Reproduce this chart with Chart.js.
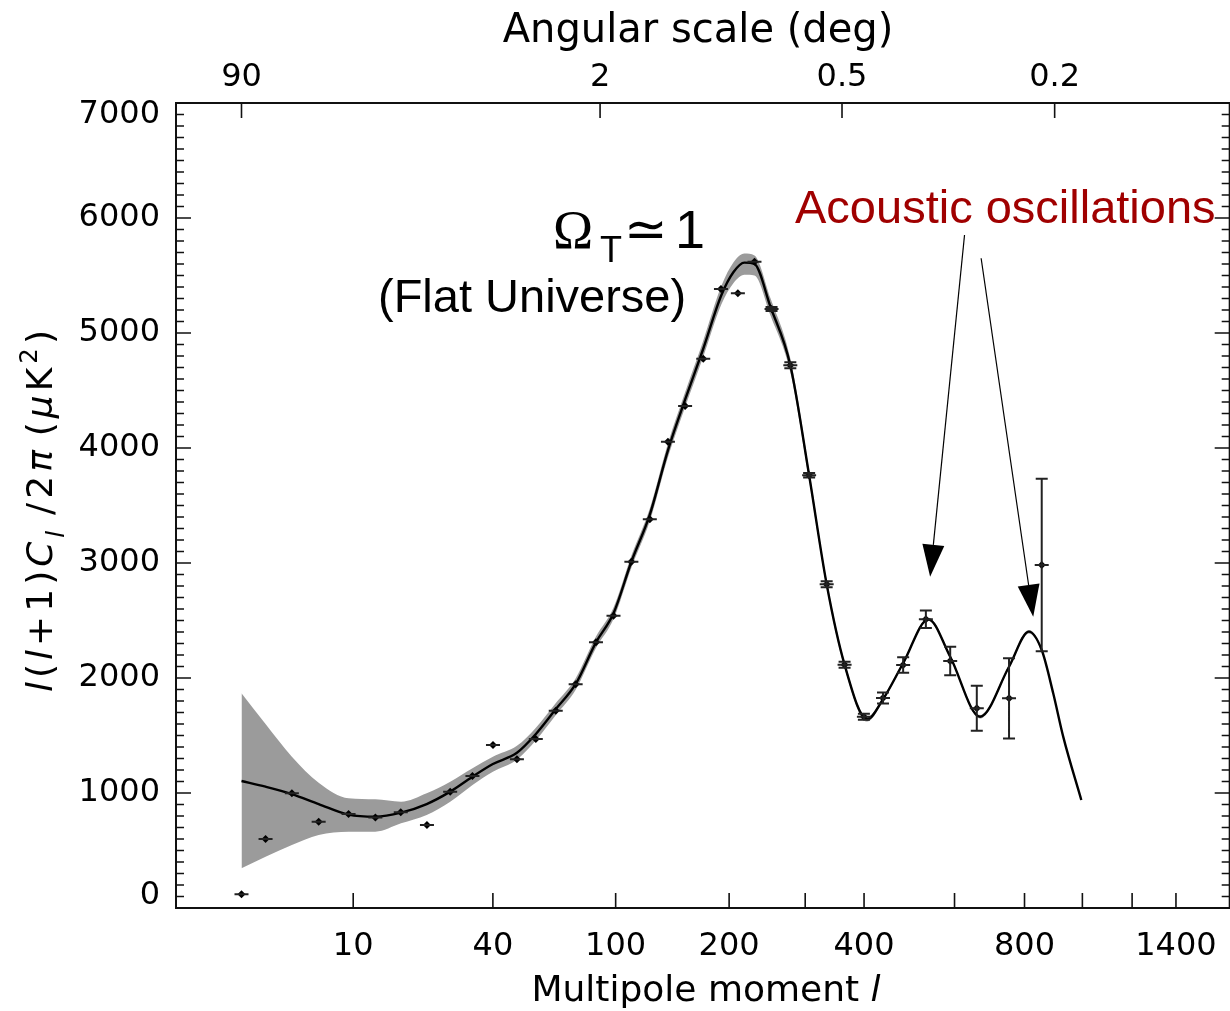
<!DOCTYPE html>
<html>
<head>
<meta charset="utf-8">
<script src="https://cdn.jsdelivr.net/npm/chart.js@4.4.1/dist/chart.umd.min.js"></script>
<style>
  html, body { margin: 0; padding: 0; background: #fff; overflow: hidden; }
  #wrap { width: 1236px; height: 1011px; }
</style>
</head>
<body>
<div id="wrap"><canvas id="cmb" width="1236" height="1011"></canvas></div>
<script>
/* =======================
   DATA
======================= */

// axis ranges (multipole l on the x axis, power on y)
const xMin = 0.507, xMax = 1678;
const yMin = 0, yMax = 7000, yMajorStep = 1000, yMinorStep = 100;

// bottom axis ticks (l), plus unlabelled ones
const xTicks = [10, 40, 100, 200, 400, 800, 1400];
const xMinorTicks = [300, 600, 1000, 1200];
// top axis: angular scale labels and the l where they sit
const angLabels = ["90", "2", "0.5", "0.2"];
const angTicks = [2, 90, 360, 900];
const yTicks = [0, 1000, 2000, 3000, 4000, 5000, 6000, 7000];

// binned measurements
const dataL = [2, 3, 4.48, 6.49, 9.46, 12.9, 16.95, 22.06, 27.48, 33.57,
  40.03, 48.69, 56.46, 65.63, 75.87, 87.5, 98.57, 110.9, 124.8, 139.7,
  155, 172.5, 191, 210, 230, 252, 278, 306, 334, 364.5,
  399.7, 437, 479, 530, 589, 659, 752, 856];
const dataV = [119, 600, 997, 750, 817, 786, 832, 722, 1011, 1148,
  1417, 1293, 1470, 1716, 1945, 2310, 2542, 3011, 3380, 4055,
  4365, 4777, 5383, 5345, 5620, 5209, 4719, 3763, 2815, 2116,
  1663, 1826, 2113, 2510, 2148, 1737, 1823, 2983];
const dataErr = [0, 0, 0, 0, 0, 0, 0, 0, 0, 0,
  0, 0, 0, 0, 0, 0, 0, 0, 0, 0,
  0, 0, 0, 0, 0, 17, 26, 20, 26, 26,
  26, 48, 68, 76, 123, 196, 348, 750];

// best-fit model and its grey band
const modelL = [2, 3, 4.48, 6.49, 9.46, 12.9, 17, 22, 27.5, 33.6,
  40, 48.7, 56.5, 65.6, 75.9, 87.5, 98.6, 110.9, 124.8, 139.7,
  155, 172, 191.5, 205, 217.7, 230, 250.5, 278, 306, 334,
  364.5, 406, 437, 479, 536, 589, 668, 752, 814, 856,
  895, 930, 996];
const modelV = [1104, 1055, 991, 904, 812, 794, 829, 904, 1012, 1142,
  1252, 1350, 1513, 1728, 1948, 2310, 2563, 3011, 3420, 3980,
  4420, 4850, 5330, 5530, 5612, 5600, 5229, 4719, 3763, 2815,
  2116, 1641, 1815, 2128, 2510, 2185, 1663, 2098, 2403, 2243,
  1867, 1490, 939];
const bandHi = [1867, 1600, 1316, 1090, 954, 945, 924, 997, 1098, 1215,
  1316, 1410, 1568, 1780, 1998, 2360, 2613, 3063, 3475, 4040,
  4485, 4920, 5410, 5615, 5692, 5675, 5304, 4779, 3808, 2850,
  2144, 1661, 1830, 2143, 2525, 2200, 1678, 2113, 2418, 2258,
  1882, 1505, 954];
const bandLo = [345, 446, 548, 635, 664, 664, 736, 809, 924, 1070,
  1185, 1290, 1458, 1676, 1898, 2260, 2513, 2959, 3365, 3920,
  4355, 4780, 5250, 5435, 5507, 5500, 5154, 4659, 3718, 2780,
  2088, 1621, 1800, 2113, 2495, 2170, 1648, 2083, 2388, 2228,
  1852, 1475, 924];

// arrows from the label down to the 2nd and 3rd peaks, in (l, value)
const arrows = [
  { from: [626, 5852], to: [540, 2881] },
  { from: [671, 5650], to: [828, 2533] }
];

/* =======================
   HELPERS
======================= */

// the multipole axis is roughly l^(1/4)
const fx = l => Math.pow(l, 0.25);
const pts = (ls, vs) => ls.map((l, i) => ({ x: fx(l), y: vs[i] }));

const axisFamily = "DejaVu Sans";

// draws text made of pieces (italic / subscript / superscript), ls = extra letter spacing
function richText(ctx, parts, x, y, size, draw, ls = 0) {
  let cx = x;
  for (const p of parts) {
    const s = (p.sub || p.sup) ? size * 0.68 : size;
    ctx.font = (p.it ? "italic " : "") + s + "px '" + axisFamily + "'";
    const dy = p.sub ? size * 0.32 : p.sup ? -size * 0.42 : 0;
    for (const ch of p.t) {
      if (draw) ctx.fillText(ch, cx, y + dy);
      cx += ctx.measureText(ch).width + ls;
    }
    cx += p.gap || 0;
  }
  return cx - x - ls;
}

/* =======================
   PLUGINS
======================= */

const framePlugin = {
  id: "frame",
  afterDatasetsDraw(chart) {
    const { ctx, chartArea: a, scales } = chart;
    const x = scales.x, y = scales.y;
    ctx.save();
    ctx.strokeStyle = "#111";
    ctx.lineWidth = 2;
    ctx.beginPath();
    ctx.moveTo(a.left, a.top); ctx.lineTo(a.right, a.top);
    ctx.lineTo(a.right, a.bottom); ctx.lineTo(a.left, a.bottom);
    ctx.closePath();
    ctx.stroke();

    ctx.lineWidth = 1.6;
    ctx.beginPath();
    for (let v = yMin; v <= yMax; v += yMinorStep) {
      const py = y.getPixelForValue(v);
      const len = v % yMajorStep === 0 ? 15 : 8;
      ctx.moveTo(a.left, py); ctx.lineTo(a.left + len, py);
      ctx.moveTo(a.right, py); ctx.lineTo(a.right - len, py);
    }
    xTicks.concat(xMinorTicks).forEach(l => {
      const px = x.getPixelForValue(fx(l));
      ctx.moveTo(px, a.bottom); ctx.lineTo(px, a.bottom - 15);
    });
    angTicks.forEach(l => {
      const px = x.getPixelForValue(fx(l));
      ctx.moveTo(px, a.top); ctx.lineTo(px, a.top + 15);
    });
    ctx.stroke();
    ctx.restore();
  }
};

const errorBarPlugin = {
  id: "errorBars",
  afterDatasetsDraw(chart) {
    const { ctx, scales: { x, y } } = chart;
    ctx.save();
    ctx.strokeStyle = "#222";
    ctx.lineWidth = 2;
    ctx.beginPath();
    dataL.forEach((l, i) => {
      const px = x.getPixelForValue(fx(l));
      const py = y.getPixelForValue(dataV[i]);
      // bin width dash
      ctx.moveTo(px - 7, py); ctx.lineTo(px + 7, py);
      if (dataErr[i] > 0) {
        const top = y.getPixelForValue(dataV[i] + dataErr[i]);
        const bot = y.getPixelForValue(dataV[i] - dataErr[i]);
        ctx.moveTo(px, top); ctx.lineTo(px, bot);
        ctx.moveTo(px - 6, top); ctx.lineTo(px + 6, top);
        ctx.moveTo(px - 6, bot); ctx.lineTo(px + 6, bot);
      }
    });
    ctx.stroke();
    ctx.restore();
  }
};

const annotationPlugin = {
  id: "annotations",
  afterDraw(chart) {
    const { ctx, scales: { x, y } } = chart;
    ctx.save();
    ctx.fillStyle = "#000";
    ctx.textBaseline = "alphabetic";

    // axis titles
    ctx.textAlign = "left";
    const topTitle = [{ t: "Angular scale (deg)" }];
    let w = richText(ctx, topTitle, 0, 0, 40, false);
    richText(ctx, topTitle, 698 - w / 2, 42, 40, true);

    const botTitle = [{ t: "Multipole moment " }, { t: "l", it: true }];
    w = richText(ctx, botTitle, 0, 0, 36, false);
    richText(ctx, botTitle, 706 - w / 2, 1001, 36, true);

    const yTitle = [
      { t: "l", it: true }, { t: "(" }, { t: "l", it: true }, { t: "+1)" },
      { t: "C", it: true }, { t: "l", it: true, sub: true, gap: 12 },
      { t: "/2" }, { t: "π", it: true, gap: 10 }, { t: "(" }, { t: "μ", it: true },
      { t: "K" }, { t: "2", sup: true }, { t: ")" }
    ];
    ctx.translate(52, 511);
    ctx.rotate(-Math.PI / 2);
    w = richText(ctx, yTitle, 0, 0, 36, false, 4);
    richText(ctx, yTitle, -w / 2, 0, 36, true, 4);
    ctx.setTransform(1, 0, 0, 1, 0, 0);

    // Omega_T ~ 1 (Flat Universe)
    ctx.font = "54px 'Liberation Serif'";
    ctx.fillText("Ω", 553, 248);
    ctx.font = "36px 'Liberation Sans'";
    ctx.fillText("T", 600, 262);
    ctx.font = "52px 'DejaVu Sans'";
    ctx.fillText("≃", 624, 247);
    ctx.font = "54px 'Liberation Sans'";
    ctx.fillText("1", 675, 248);
    ctx.font = "47px 'Liberation Sans'";
    ctx.fillText("(Flat Universe)", 378, 312);

    ctx.fillStyle = "#a00000";
    ctx.fillText("Acoustic oscillations", 795, 223);

    // arrows
    ctx.strokeStyle = "#000";
    ctx.fillStyle = "#000";
    ctx.lineWidth = 1.2;
    arrows.forEach(a => {
      const x0 = x.getPixelForValue(fx(a.from[0])), y0 = y.getPixelForValue(a.from[1]);
      const x1 = x.getPixelForValue(fx(a.to[0])), y1 = y.getPixelForValue(a.to[1]);
      const ang = Math.atan2(y1 - y0, x1 - x0);
      const len = 32, half = 11;
      const bx = x1 - len * Math.cos(ang), by = y1 - len * Math.sin(ang);
      ctx.beginPath();
      ctx.moveTo(x0, y0); ctx.lineTo(bx, by);
      ctx.stroke();
      ctx.beginPath();
      ctx.moveTo(x1, y1);
      ctx.lineTo(bx + half * Math.sin(ang), by - half * Math.cos(ang));
      ctx.lineTo(bx - half * Math.sin(ang), by + half * Math.cos(ang));
      ctx.closePath();
      ctx.fill();
    });
    ctx.restore();
  }
};

/* =======================
   CHART
======================= */

const tickFont = { family: axisFamily, size: 32, lineHeight: 1.2 };

new Chart(document.getElementById("cmb"), {
  type: "line",
  data: {
    datasets: [
      // higher order is drawn first: band, then model, then points
      { data: pts(modelL, bandHi), order: 3, borderWidth: 0, pointRadius: 0, fill: "+1",
        backgroundColor: "#9b9b9b", cubicInterpolationMode: "monotone" },
      { data: pts(modelL, bandLo), order: 2, borderWidth: 0, pointRadius: 0, fill: false,
        cubicInterpolationMode: "monotone" },
      { data: pts(modelL, modelV), order: 1, borderColor: "#000", borderWidth: 2.4, pointRadius: 0,
        fill: false, cubicInterpolationMode: "monotone" },
      { data: pts(dataL, dataV), order: 0, showLine: false, pointStyle: "rectRot", pointRadius: 4,
        backgroundColor: "#000", borderColor: "#000", borderWidth: 0 }
    ]
  },
  options: {
    responsive: false,
    animation: false,
    layout: { padding: { left: 0, right: 2, top: 0, bottom: 0 } },
    plugins: { legend: { display: false }, tooltip: { enabled: false } },
    scales: {
      x: {
        type: "linear", position: "bottom", min: fx(xMin), max: fx(xMax),
        afterBuildTicks: s => { s.ticks = xTicks.map(l => ({ value: fx(l) })); },
        afterFit: s => { s.height = 103; },
        grid: { display: false, drawTicks: false },
        border: { display: false },
        ticks: { callback: (v, i) => String(xTicks[i]), font: tickFont, color: "#000",
                 padding: 19, maxRotation: 0, autoSkip: false }
      },
      xTop: {
        type: "linear", position: "top", min: fx(xMin), max: fx(xMax),
        afterBuildTicks: s => { s.ticks = angTicks.map(l => ({ value: fx(l) })); },
        afterFit: s => { s.height = 103; },
        grid: { display: false, drawTicks: false },
        border: { display: false },
        ticks: { callback: (v, i) => angLabels[i], font: tickFont, color: "#000",
                 padding: 6, maxRotation: 0, autoSkip: false }
      },
      y: {
        type: "linear", position: "left", min: yMin, max: yMax,
        afterBuildTicks: s => { s.ticks = yTicks.map(v => ({ value: v })); },
        afterFit: s => { s.width = 176; },
        grid: { display: false, drawTicks: false },
        border: { display: false },
        // the end labels sit a little inside the frame: pad them with an empty line
        ticks: {
          callback: v => v === yMin ? [String(v), ""] : v === yMax ? ["", String(v)] : String(v),
          font: { family: axisFamily, size: 32, lineHeight: "24px" }, color: "#000", padding: 16
        }
      }
    }
  },
  plugins: [framePlugin, errorBarPlugin, annotationPlugin]
});
</script>
</body>
</html>
